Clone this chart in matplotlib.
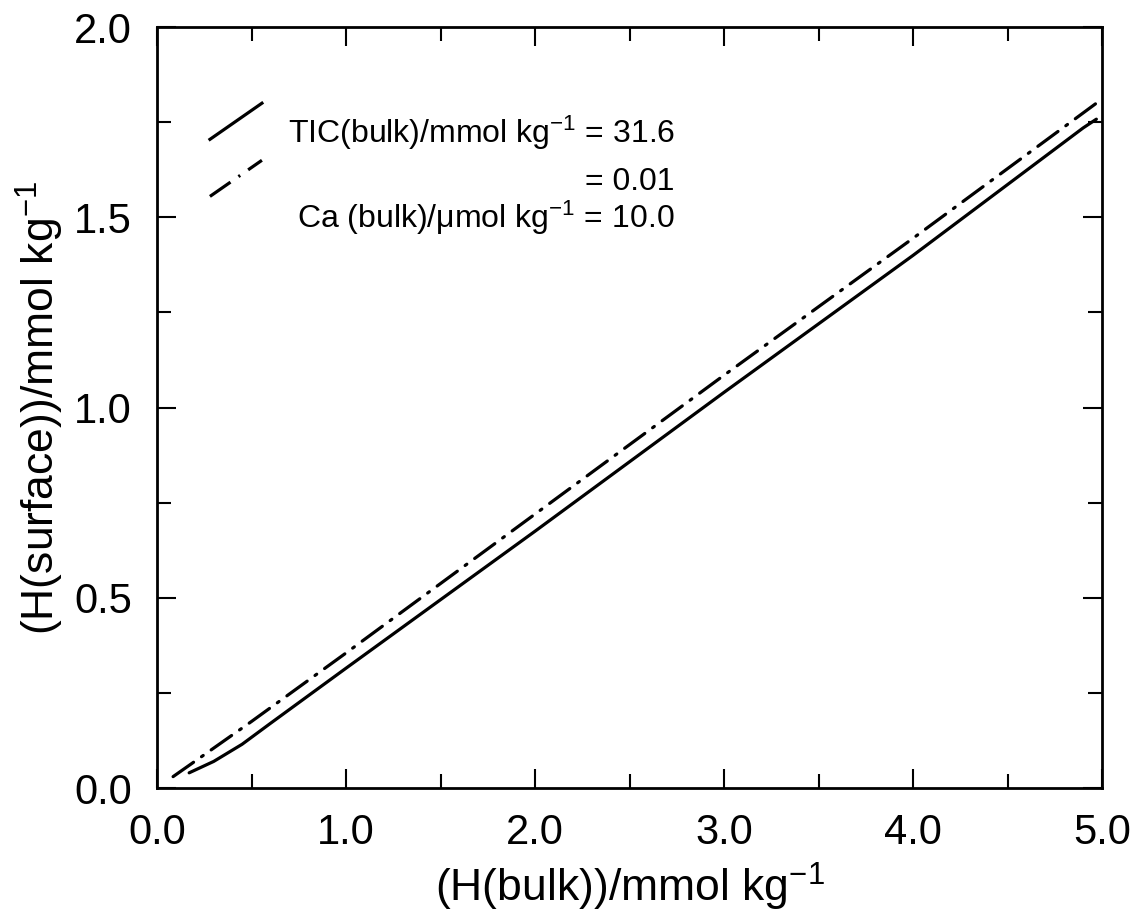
import matplotlib
matplotlib.use("Agg")
import matplotlib.pyplot as plt
from matplotlib.ticker import MultipleLocator, FormatStrFormatter

plt.rcParams['font.family'] = ['Liberation Sans', 'DejaVu Sans']
plt.rcParams['mathtext.default'] = 'regular'
plt.rcParams['lines.scale_dashes'] = False

# Data
solid_x = [0.17, 0.30, 0.45, 0.60, 1.0, 2.0, 3.0, 4.0, 4.90, 4.97]
solid_y = [0.040, 0.070, 0.115, 0.170, 0.315, 0.675, 1.040, 1.400, 1.735, 1.758]
dashdot_x = [0.085, 0.30, 0.50, 1.0, 2.0, 3.0, 4.0, 4.97]
dashdot_y = [0.030, 0.105, 0.175, 0.355, 0.720, 1.085, 1.445, 1.800]

x_ticks = [0.0, 1.0, 2.0, 3.0, 4.0, 5.0]
y_ticks = [0.0, 0.5, 1.0, 1.5, 2.0]

legend_texts = [r"TIC(bulk)/mmol kg$^{-1}$ = 31.6",
                r"= 0.01",
                r"Ca (bulk)/$\mu$mol kg$^{-1}$ = 10.0"]

fig = plt.figure(figsize=(11.42, 9.19), dpi=100)
ax = fig.add_axes([0.1375, 0.1425, 0.8275, 0.828])

dashdot = (0, (18, 7, 1.5, 7))
ax.plot(solid_x, solid_y, color='black', lw=2.3, solid_capstyle='round')
ax.plot(dashdot_x, dashdot_y, color='black', lw=2.3, linestyle=dashdot,
        dash_capstyle='round')

# legend line samples
ax.plot([0.28, 0.555], [1.705, 1.80], color='black', lw=2.3)
ax.plot([0.28, 0.555], [1.555, 1.65], color='black', lw=2.3, linestyle=dashdot)

ys = [0.861, 0.796, 0.749]
for t, yy in zip(legend_texts, ys):
    ax.text(0.548, yy, t, transform=ax.transAxes, ha='right', va='center',
            fontsize=23)

ax.set_xlim(0, 5)
ax.set_ylim(0, 2)
ax.set_xticks(x_ticks)
ax.set_yticks(y_ticks)
ax.xaxis.set_major_formatter(FormatStrFormatter('%.1f'))
ax.yaxis.set_major_formatter(FormatStrFormatter('%.1f'))
ax.xaxis.set_minor_locator(MultipleLocator(0.5))
ax.yaxis.set_minor_locator(MultipleLocator(0.25))
ax.tick_params(which='both', direction='in', top=True, right=True, width=1.5,
               labelsize=30)
ax.tick_params(which='major', length=14, pad=18)
ax.tick_params(which='minor', length=10)
for s in ax.spines.values():
    s.set_linewidth(2)

ax.set_xlabel(r"(H(bulk))/mmol kg$^{-1}$", fontsize=32, labelpad=6)
ax.set_ylabel(r"(H(surface))/mmol kg$^{-1}$", fontsize=32, labelpad=6)

fig.savefig("out.png", dpi=100)
